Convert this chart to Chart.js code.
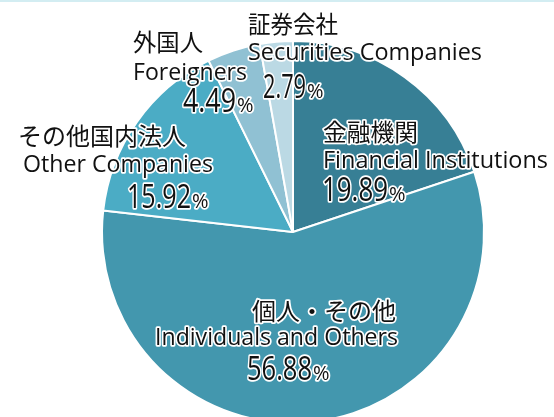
<!DOCTYPE html>
<html>
<head>
<meta charset="utf-8">
<script src="https://cdn.jsdelivr.net/npm/chart.js@4"></script>
<style>
  html, body { margin: 0; padding: 0; background: #fff; overflow: hidden; }
  body { width: 554px; height: 417px; position: relative; }
  .topline { position: absolute; left: 0; top: 0; width: 554px; height: 2px; background: #d3edf2; }
  #pie { position: absolute; left: 0; top: 0; }
</style>
</head>
<body>
<div class="topline"></div>
<canvas id="pie" width="554" height="440"></canvas>
<script>
// Shareholder breakdown
const categoriesJa = ["金融機関", "個人・その他", "その他国内法人", "外国人", "証券会社"];
const categoriesEn = ["Financial Institutions", "Individuals and Others", "Other Companies", "Foreigners", "Securities Companies"];
const shares = [19.89, 56.88, 15.92, 4.49, 2.79];
const sliceColors = ["#377f95", "#4397ae", "#4bacc5", "#90c1d3", "#bbd9e4"];

// Label placement: [x, baseline, width] for the Japanese line, English line and the number
const labelLayout = [
  { ja: [323, 141, 95], en: [323, 168, 225], num: [322, 201, 66] },
  { ja: [252, 320, 146], en: [155, 345, 243], num: [247, 380, 65] },
  { ja: [18, 145, 169], en: [23, 172, 190], num: [127, 208, 64] },
  { ja: [133, 51, 70], en: [133, 80, 114], num: [183, 112, 53] },
  { ja: [248, 33, 90], en: [248, 60, 234], num: [263, 98, 43] }
];

const JA_FONT = '"Noto Sans CJK JP", sans-serif';
const EN_FONT = '"Open Sans", "Noto Sans", sans-serif';

// Outlined text: white halo under black fill
function outlined(ctx, text, x, y, font, maxW) {
  ctx.font = font;
  ctx.lineWidth = 3.5;
  ctx.lineJoin = "round";
  ctx.strokeStyle = "#fff";
  ctx.fillStyle = "#111";
  ctx.strokeText(text, x, y, maxW);
  ctx.fillText(text, x, y, maxW);
  return Math.min(ctx.measureText(text).width, maxW || Infinity);
}

const pieLabels = {
  id: "pieLabels",
  afterDatasetsDraw(chart) {
    const ctx = chart.ctx;
    ctx.save();
    ctx.textAlign = "left";
    ctx.textBaseline = "alphabetic";
    labelLayout.forEach((pos, i) => {
      outlined(ctx, categoriesJa[i], pos.ja[0], pos.ja[1], "24px " + JA_FONT, pos.ja[2]);
      outlined(ctx, categoriesEn[i], pos.en[0], pos.en[1], "24.5px " + EN_FONT, pos.en[2]);
      const w = outlined(ctx, shares[i].toFixed(2), pos.num[0], pos.num[1], "32px " + EN_FONT, pos.num[2]);
      outlined(ctx, "%", pos.num[0] + w + 1, pos.num[1], "20px " + EN_FONT);
    });
    ctx.restore();
  }
};

new Chart(document.getElementById("pie"), {
  type: "pie",
  data: {
    labels: categoriesEn,
    datasets: [{
      data: shares,
      backgroundColor: sliceColors,
      borderColor: "#fff",
      borderWidth: 2
    }]
  },
  options: {
    responsive: false,
    animation: false,
    devicePixelRatio: 1,
    layout: { padding: { top: 40, bottom: 16, left: 101, right: 69 } },
    plugins: {
      legend: { display: false },
      tooltip: { enabled: false }
    }
  },
  plugins: [pieLabels]
});
</script>
</body>
</html>
